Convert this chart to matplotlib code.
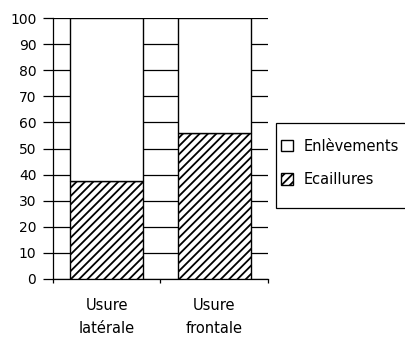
import matplotlib.pyplot as plt
from matplotlib.patches import Patch, Rectangle

categories = ["Usure\nlatérale", "Usure\nfrontale"]
ecaillures = [37.5, 56]
enlevements = [62.5, 44]
yticks = [0, 10, 20, 30, 40, 50, 60, 70, 80, 90, 100]

plt.rcParams['hatch.linewidth'] = 1.3
plt.rcParams['font.family'] = ['DejaVu Sans']

fig = plt.figure(figsize=(4.06, 3.54), dpi=100)
ax = fig.add_axes([0.1305, 0.2119, 0.5296, 0.737])

pos = [0.5, 1.5]
ax.bar(pos, ecaillures, width=0.68, color="white", edgecolor="black",
       hatch="////", linewidth=1.0, zorder=3)
ax.bar(pos, enlevements, bottom=ecaillures, width=0.68, color="white",
       edgecolor="black", linewidth=1.0, zorder=3)

ax.set_xlim(0, 2)
ax.set_ylim(0, 100)
ax.set_yticks(yticks)
ax.yaxis.grid(True, color="black", linewidth=0.9, zorder=1)
ax.set_axisbelow(True)

ax.set_xticks([0, 1, 2])
ax.set_xticklabels([])
ax.tick_params(axis="x", length=3, width=0.9)
ax.set_xticks(pos, minor=True)
ax.set_xticklabels(categories, minor=True, fontsize=10.5, linespacing=1.6)
ax.tick_params(axis="x", which="minor", length=0, pad=14)
ax.tick_params(axis="y", length=7, width=0.9, labelsize=10, pad=5)

for s in ["top", "right"]:
    ax.spines[s].set_visible(False)
for s in ["left", "bottom"]:
    ax.spines[s].set_linewidth(0.9)

# legend box drawn separately (taller than wide padding allows)
fig.patches.append(Rectangle((0.680, 0.412), 0.33, 0.241, transform=fig.transFigure,
                             facecolor="white", edgecolor="black", linewidth=0.9))

handles = [Patch(facecolor="white", edgecolor="black", label="Enlèvements"),
           Patch(facecolor="white", edgecolor="black", hatch="////", label="Ecaillures")]
leg = fig.legend(handles=handles, loc="center left", bbox_to_anchor=(0.692, 0.54),
                 fontsize=10.5, frameon=False,
                 handlelength=0.85, handleheight=0.85, handletextpad=0.7,
                 labelspacing=1.25, borderpad=0, borderaxespad=0)

fig.savefig("out.png", dpi=100)
